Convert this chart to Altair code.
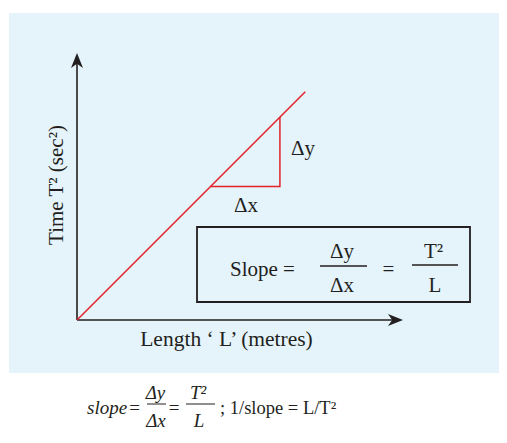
import altair as alt
import pandas as pd

# ---- data (graph of T^2 against L, arbitrary units) ----
length_L = [0.0, 8.55]
time_T2 = [0.0, 8.55]
tri_L = [5.0, 7.6, 7.6]
tri_T2 = [5.0, 5.0, 7.6]
tri_order = [0, 1, 2]

# ---- layout / style ----
W, H = 326, 267
X_DOMAIN = [0, 12.21]
Y_DOMAIN = [0, 10]
INK = "#231f20"
RED = "#e2232a"
BG = "#e5f3fa"
FONT = "Liberation Serif"

line_df = pd.DataFrame({"L": length_L, "T2": time_T2})
tri_df = pd.DataFrame({"L": tri_L, "T2": tri_T2, "o": tri_order})
one = pd.DataFrame({"k": [0]})

xs = alt.Scale(domain=X_DOMAIN, nice=False, zero=False)
ys = alt.Scale(domain=Y_DOMAIN, nice=False, zero=False)


def label(text, x, y, size=21, align="center", style="normal", angle=0):
    return alt.Chart(one).mark_text(
        text=text, font=FONT, fontSize=size, fontStyle=style, align=align,
        baseline="alphabetic", angle=angle, color=INK
    ).encode(x=alt.value(x), y=alt.value(y))


def hrule(x1, x2, y, w=1.6):
    return alt.Chart(one).mark_rule(color=INK, strokeWidth=w).encode(
        x=alt.value(x1), x2=alt.value(x2), y=alt.value(y))


bg = alt.Chart(one).mark_rect(color=BG).encode(
    x=alt.value(-68), x2=alt.value(422), y=alt.value(-40), y2=alt.value(320))

yaxis = alt.Chart(one).mark_rule(color=INK, strokeWidth=1.6).encode(
    x=alt.value(0), y=alt.value(8), y2=alt.value(H))
xaxis = alt.Chart(one).mark_rule(color=INK, strokeWidth=1.6).encode(
    x=alt.value(0), x2=alt.value(W - 8), y=alt.value(H))

up_arrow = "M0,0L0.64,1.6L0,1.15L-0.64,1.6Z"
right_arrow = "M0,0L-1.6,-0.64L-1.15,0L-1.6,0.64Z"
head_up = alt.Chart(one).mark_point(shape=up_arrow, size=353, filled=True,
                                    color=INK, opacity=1, strokeWidth=0).encode(
    x=alt.value(0), y=alt.value(0))
head_right = alt.Chart(one).mark_point(shape=right_arrow, size=353, filled=True,
                                       color=INK, opacity=1, strokeWidth=0).encode(
    x=alt.value(W), y=alt.value(H))

red_line = alt.Chart(line_df).mark_line(color=RED, strokeWidth=1.5, clip=False).encode(
    x=alt.X("L:Q", scale=xs, axis=None),
    y=alt.Y("T2:Q", scale=ys, axis=None))

triangle = alt.Chart(tri_df).mark_line(color=RED, strokeWidth=1.5, clip=False).encode(
    x=alt.X("L:Q", scale=xs, axis=None),
    y=alt.Y("T2:Q", scale=ys, axis=None),
    order=alt.Order("o:Q"))

box = alt.Chart(one).mark_rect(fill=BG, stroke=INK, strokeWidth=1.8).encode(
    x=alt.value(120), x2=alt.value(393), y=alt.value(174), y2=alt.value(249))

layers = [
    bg, yaxis, xaxis, head_up, head_right, red_line, triangle, box,
    label("Length \u2018 L\u2019 (metres)", 149.5, 293, size=21.5),
    label("Time T\u00b2 (sec\u00b2)", -14, 132, size=21, angle=270),
    label("\u0394y", 226, 102),
    label("\u0394x", 169, 159),
    label("Slope =", 153, 223, align="left"),
    label("\u0394y", 265, 205),
    hrule(243, 290, 213),
    label("\u0394x", 265, 239),
    label("=", 311.5, 223),
    label("T\u00b2", 356.5, 205),
    hrule(335, 381, 212),
    label("L", 358, 239),
    # bottom formula
    label("slope", 10, 361, size=19, align="left", style="italic"),
    label("=", 57.5, 361, size=19),
    label("\u0394y", 78.5, 346, size=19, style="italic"),
    hrule(70, 89, 351, w=1),
    label("\u0394x", 79, 374, size=19, style="italic"),
    label("=", 97, 361, size=19),
    label("T\u00b2", 121, 346, size=19, style="italic"),
    hrule(109, 138, 351, w=1),
    label("L", 122, 374, size=19, style="italic"),
    label("; 1/slope = L/T\u00b2", 143, 361, size=18.5, align="left"),
]

chart = alt.layer(*layers).properties(
    width=W, height=H,
    padding={"left": 69, "top": 45, "right": 96, "bottom": 114},
    autosize=alt.AutoSizeParams(type="none"),
    background="white",
).configure_view(stroke=None)

chart.save("out.html", embed_options={"renderer": "svg", "actions": False})
